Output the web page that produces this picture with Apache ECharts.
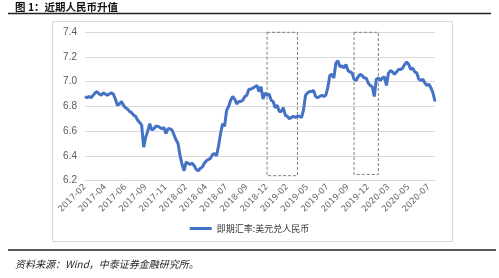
<!DOCTYPE html>
<html>
<head>
<meta charset="utf-8">
<script src="https://cdn.jsdelivr.net/npm/echarts@6/dist/echarts.min.js"></script>
<style>
  html, body { margin: 0; padding: 0; background: #fff; }
  #chart { width: 499px; height: 278px; }
</style>
</head>
<body>
<div id="chart"></div>
<script>
// x 轴刻度标签（每 10 个点一个）
var tickLabels = ['2017-02', '2017-04', '2017-06', '2017-09', '2017-11', '2018-02', '2018-04', '2018-07', '2018-09',
  '2018-12', '2019-02', '2019-05', '2019-07', '2019-09', '2019-12', '2020-03', '2020-05', '2020-07'];

// 即期汇率:美元兑人民币（约每周一个点，从图上读取）
var rateValues = [
  6.88, 6.87, 6.88, 6.87, 6.89, 6.91, 6.92, 6.90, 6.89, 6.91,
  6.90, 6.89, 6.90, 6.91, 6.90, 6.86, 6.81, 6.82, 6.84, 6.81,
  6.79, 6.78, 6.76, 6.75, 6.73, 6.72, 6.69, 6.67, 6.65, 6.47,
  6.55, 6.60, 6.66, 6.61, 6.62, 6.64, 6.64, 6.63, 6.62, 6.63,
  6.58, 6.62, 6.62, 6.61, 6.57, 6.53, 6.50, 6.40, 6.33, 6.28,
  6.35, 6.34, 6.33, 6.34, 6.32, 6.29, 6.28, 6.30, 6.31, 6.34,
  6.36, 6.37, 6.38, 6.41, 6.42, 6.40, 6.48, 6.58, 6.66, 6.64,
  6.77, 6.80, 6.85, 6.88, 6.86, 6.82, 6.84, 6.84, 6.85, 6.88,
  6.89, 6.94, 6.94, 6.95, 6.96, 6.97, 6.92, 6.96, 6.86, 6.91,
  6.89, 6.90, 6.85, 6.84, 6.79, 6.81, 6.76, 6.76, 6.79, 6.73,
  6.72, 6.70, 6.71, 6.72, 6.71, 6.72, 6.72, 6.71, 6.77, 6.89,
  6.91, 6.92, 6.92, 6.93, 6.88, 6.87, 6.88, 6.89, 6.88, 6.89,
  6.95, 7.05, 7.06, 7.03, 7.15, 7.17, 7.12, 7.13, 7.11, 7.14,
  7.09, 7.08, 7.07, 7.02, 7.01, 7.04, 7.06, 7.05, 7.03, 7.03,
  6.99, 6.97, 6.96, 6.88, 7.02, 7.03, 7.01, 7.03, 7.04, 6.97,
  7.07, 7.09, 7.08, 7.06, 7.08, 7.10, 7.10, 7.11, 7.14, 7.16,
  7.14, 7.10, 7.11, 7.08, 7.07, 7.02, 7.01, 7.02, 6.99, 6.97,
  6.98, 6.95, 6.91, 6.84
];

// 虚线框（x 为点序号，y 为汇率）
var boxes = [[90, 105, 7.45, 6.24], [133, 145, 7.46, 6.25]];
var vLine = [163, 7.43, 6.27];

var xData = rateValues.map(function (v, i) {
  return i % 10 === 0 ? tickLabels[i / 10] : '';
});

var chart = echarts.init(document.getElementById('chart'));
chart.setOption({
  backgroundColor: '#fff',
  animation: false,
  graphic: [
    { type: 'text', left: 15, top: 2, style: { text: '图 1：近期人民币升值', font: 'bold 10.5px "Noto Sans CJK SC"', fill: '#111' } },
    { type: 'line', shape: { x1: 8, y1: 13.5, x2: 491, y2: 13.5 }, style: { stroke: '#222', lineWidth: 1.5 } },
    { type: 'rect', shape: { x: 52.5, y: 21.5, width: 400, height: 220 }, style: { fill: 'none', stroke: '#d9d9d9', lineWidth: 1 } },
    { type: 'line', shape: { x1: 8, y1: 250, x2: 496, y2: 250 }, style: { stroke: '#222', lineWidth: 1.5 } },
    { type: 'text', left: 15, top: 259, style: { text: '资料来源：Wind，中泰证券金融研究所。', font: 'italic 10px "Noto Sans CJK SC"', fill: '#222' } }
  ],
  grid: { left: 85, right: 64, top: 32.3, bottom: 97.4 },
  legend: {
    bottom: 40, left: 'center',
    icon: 'rect', itemWidth: 22, itemHeight: 3,
    textStyle: { fontSize: 9, color: '#333', fontFamily: 'Noto Sans CJK SC' }
  },
  xAxis: {
    type: 'category',
    data: xData,
    boundaryGap: false,
    axisLine: { lineStyle: { color: '#d9d9d9' } },
    axisTick: { show: false },
    axisLabel: { interval: 9, rotate: 45, fontSize: 8.5, color: '#666', margin: 5, fontFamily: 'DejaVu Sans' }
  },
  yAxis: {
    type: 'value',
    min: 6.2, max: 7.4, interval: 0.2,
    axisLine: { show: false },
    axisTick: { show: false },
    splitLine: { lineStyle: { color: '#d9d9d9' } },
    axisLabel: { color: '#595959', fontSize: 10, margin: 8, formatter: function (v) { return v.toFixed(1); } }
  },
  series: [{
    name: '即期汇率:美元兑人民币',
    type: 'line',
    data: rateValues,
    symbol: 'none',
    clip: false,
    lineStyle: { color: '#4472C4', width: 3 },
    itemStyle: { color: '#4472C4' },
    markArea: {
      silent: true,
      itemStyle: { color: 'rgba(0,0,0,0)', borderColor: '#7f7f7f', borderWidth: 1, borderType: [3, 2] },
      data: boxes.map(function (b) {
        return [{ xAxis: b[0], yAxis: b[2] }, { xAxis: b[1], yAxis: b[3] }];
      })
    },
    markLine: {
      silent: true,
      symbol: 'none',
      label: { show: false },
      lineStyle: { color: '#7f7f7f', width: 1, type: [3, 2] },
      data: [[{ coord: [vLine[0], vLine[1]] }, { coord: [vLine[0], vLine[2]] }]]
    }
  }]
});
</script>
</body>
</html>
